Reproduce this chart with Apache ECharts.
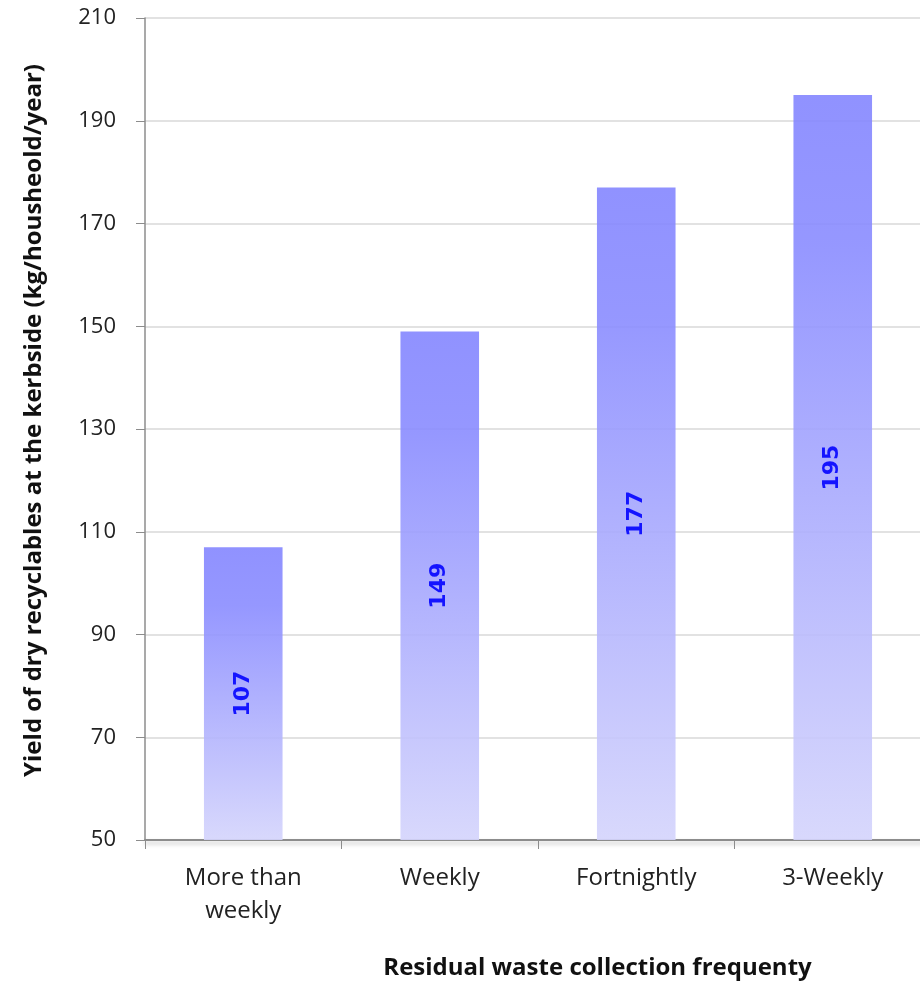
<!DOCTYPE html>
<html>
<head>
<meta charset="utf-8">
<script src="https://cdn.jsdelivr.net/npm/echarts@6/dist/echarts.min.js"></script>
<style>
  html, body { margin: 0; padding: 0; background: #fff; overflow: hidden; }
  /* canvas is a little wider than the page so the last column runs off the right edge */
  #chart { width: 940px; height: 985px; }
</style>
</head>
<body>
<div id="chart"></div>
<script>
// Kerbside dry recyclables yield by residual waste collection frequency
const categories = ['More than\nweekly', 'Weekly', 'Fortnightly', '3-Weekly'];
const yieldValues = [107, 149, 177, 195];
const yTicks = { min: 50, max: 210, step: 20 };

const chart = echarts.init(document.getElementById('chart'));

const barFill = new echarts.graphic.LinearGradient(0, 0, 0, 1, [
  { offset: 0, color: 'rgba(132, 134, 255, 0.9)' },
  { offset: 0.2, color: 'rgba(138, 140, 255, 0.9)' },
  { offset: 1, color: 'rgba(212, 212, 252, 0.9)' }
]);

chart.setOption({
  animation: false,
  backgroundColor: '#ffffff',
  grid: { left: 145, top: 18, bottom: 143, right: 9, containLabel: false },
  xAxis: {
    type: 'category',
    data: categories,
    name: 'Residual waste collection frequenty',
    nameLocation: 'middle',
    nameGap: 116,
    nameTextStyle: {
      fontFamily: 'Open Sans', fontWeight: 'bold', fontSize: 24, color: '#111',
      padding: [0, 0, 0, 119]
    },
    axisLine: {
      lineStyle: {
        color: '#8c8c8c', width: 2,
        shadowColor: 'rgba(0,0,0,0.25)', shadowBlur: 4, shadowOffsetY: 3
      }
    },
    axisTick: { show: true, length: 9, lineStyle: { color: '#8c8c8c' } },
    axisLabel: {
      fontFamily: 'Open Sans', fontSize: 24, color: '#222', margin: 22, lineHeight: 33
    }
  },
  yAxis: {
    type: 'value',
    min: yTicks.min,
    max: yTicks.max,
    interval: yTicks.step,
    name: 'Yield of dry recyclables at the kerbside (kg/housheold/year)',
    nameLocation: 'middle',
    nameGap: 99,
    nameRotate: 90,
    nameTextStyle: {
      fontFamily: 'Open Sans', fontWeight: 'bold', fontSize: 24, color: '#111',
      padding: [0, 0, 0, 17]
    },
    axisLine: { show: true, lineStyle: { color: '#8c8c8c', width: 1.5 } },
    axisTick: { show: true, length: 9, lineStyle: { color: '#8c8c8c' } },
    axisLabel: { fontFamily: 'Open Sans', fontSize: 22, color: '#222', margin: 29 },
    splitLine: { lineStyle: { color: '#d9d9d9', width: 1.5 } }
  },
  series: [{
    type: 'bar',
    data: yieldValues,
    barWidth: '40%',
    itemStyle: { color: barFill },
    label: {
      show: true,
      position: 'inside',
      rotate: 90,
      fontFamily: 'DejaVu Sans',
      fontWeight: 'bold',
      fontSize: 22,
      color: '#1414ff'
    }
  }]
});
</script>
</body>
</html>
